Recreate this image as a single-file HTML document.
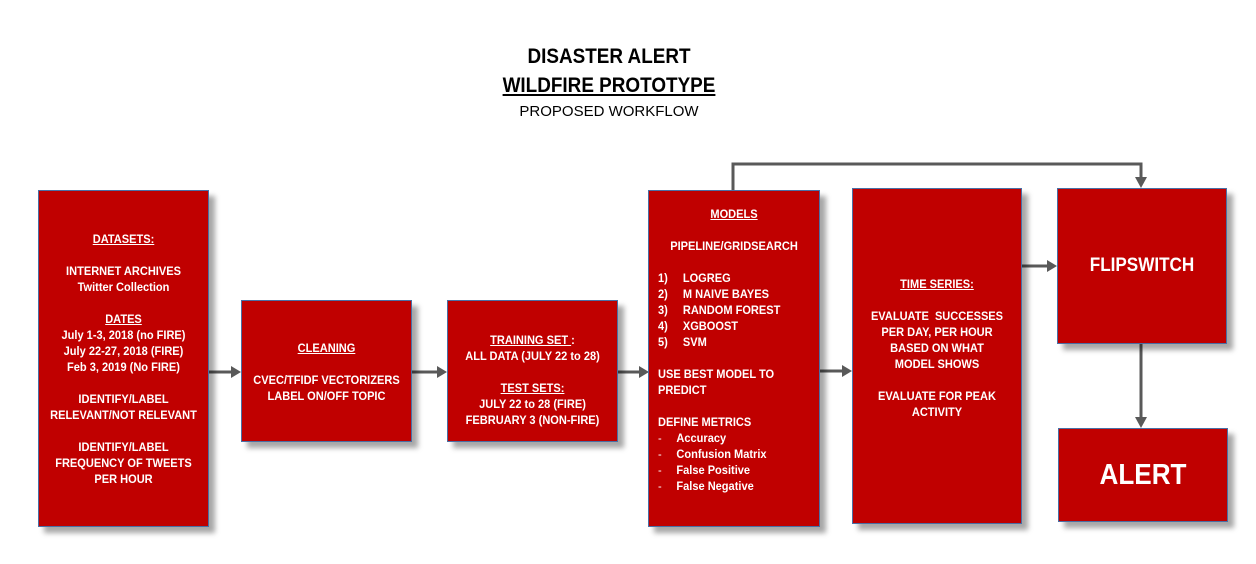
<!DOCTYPE html>
<html><head><meta charset="utf-8"><style>
body{margin:0;width:1256px;height:564px;background:#fff;position:relative;overflow:hidden;font-family:"Liberation Sans",Arial,sans-serif}
.t{position:absolute;left:0;width:1218px;text-align:center;color:#000}
.b{position:absolute;background:#c00000;border:1px solid #4a6fa5;box-shadow:6px 6px 5px rgba(0,0,0,.35);box-sizing:border-box;color:#fff;font-weight:bold}
.tx{position:absolute;left:0;right:0;font-size:12px;line-height:16px;text-align:center;transform:scaleX(.92);transform-origin:center;white-space:nowrap}
u{text-decoration:underline}
.l{text-align:left;transform-origin:left;left:9px}
.n{display:inline-block;width:27px}
.d{display:inline-block;width:20px;font-weight:normal}
</style></head><body>
<div class="t" style="top:45px;font-size:21px;font-weight:bold;transform:scaleX(.9)">DISASTER ALERT</div>
<div class="t" style="top:74px;font-size:21px;font-weight:bold;transform:scaleX(.9)"><u>WILDFIRE PROTOTYPE</u></div>
<div class="t" style="top:103px;font-size:15px;">PROPOSED WORKFLOW</div>

<svg width="1256" height="564" style="position:absolute;left:0;top:0">
<g stroke="#595959" stroke-width="3" fill="none">
<line x1="208" y1="372" x2="232" y2="372"/>
<line x1="411" y1="372" x2="438" y2="372"/>
<line x1="617" y1="372" x2="640" y2="372"/>
<line x1="819" y1="371" x2="843" y2="371"/>
<line x1="1021" y1="266" x2="1048" y2="266"/>
<polyline points="733,190 733,164 1141,164 1141,178"/>
<line x1="1141" y1="343" x2="1141" y2="418"/>
</g>
<g fill="#595959">
<polygon points="231,366 241,372 231,378"/>
<polygon points="437,366 447,372 437,378"/>
<polygon points="639,366 649,372 639,378"/>
<polygon points="842,365 852,371 842,377"/>
<polygon points="1047,260 1057,266 1047,272"/>
<polygon points="1135,177 1141,188 1147,177"/>
<polygon points="1135,417 1141,428 1147,417"/>
</g>
</svg>

<div class="b" style="left:38px;top:190px;width:171px;height:337px">
<div class="tx" style="top:40px"><u>DATASETS:</u><br><br>INTERNET ARCHIVES<br>Twitter Collection<br><br><u>DATES</u><br>July 1-3, 2018 (no FIRE)<br>July 22-27, 2018 (FIRE)<br>Feb 3, 2019 (No FIRE)<br><br>IDENTIFY/LABEL<br>RELEVANT/NOT RELEVANT<br><br>IDENTIFY/LABEL<br>FREQUENCY OF TWEETS<br>PER HOUR</div></div>

<div class="b" style="left:241px;top:300px;width:171px;height:142px">
<div class="tx" style="top:39px"><u>CLEANING</u><br><br>CVEC/TFIDF VECTORIZERS<br>LABEL ON/OFF TOPIC</div></div>

<div class="b" style="left:447px;top:300px;width:171px;height:142px">
<div class="tx" style="top:31px"><u>TRAINING SET </u>:<br>ALL DATA (JULY 22 to 28)<br><br><u>TEST SETS:</u><br>JULY 22 to 28 (FIRE)<br>FEBRUARY 3 (NON-FIRE)</div></div>

<div class="b" style="left:648px;top:190px;width:172px;height:337px">
<div class="tx" style="top:15px"><u>MODELS</u><br><br>PIPELINE/GRIDSEARCH</div>
<div class="tx l" style="top:79px"><span class="n">1)</span>LOGREG<br><span class="n">2)</span>M NAIVE BAYES<br><span class="n">3)</span>RANDOM FOREST<br><span class="n">4)</span>XGBOOST<br><span class="n">5)</span>SVM<br><br>USE BEST MODEL TO<br>PREDICT<br><br>DEFINE METRICS<br><span class="d">-</span>Accuracy<br><span class="d">-</span>Confusion Matrix<br><span class="d">-</span>False Positive<br><span class="d">-</span>False Negative</div></div>

<div class="b" style="left:852px;top:188px;width:170px;height:336px">
<div class="tx" style="top:87px"><u>TIME SERIES:</u><br><br>EVALUATE&nbsp; SUCCESSES<br>PER DAY, PER HOUR<br>BASED ON WHAT<br>MODEL SHOWS<br><br>EVALUATE FOR PEAK<br>ACTIVITY</div></div>

<div class="b" style="left:1057px;top:188px;width:170px;height:156px">
<div class="tx" style="top:66px;font-size:19px;line-height:22px;transform:scaleX(.9)">FLIPSWITCH</div></div>

<div class="b" style="left:1058px;top:428px;width:170px;height:94px">
<div class="tx" style="top:29px;font-size:29px;line-height:34px;transform:scaleX(.9)">ALERT</div></div>
</body></html>
